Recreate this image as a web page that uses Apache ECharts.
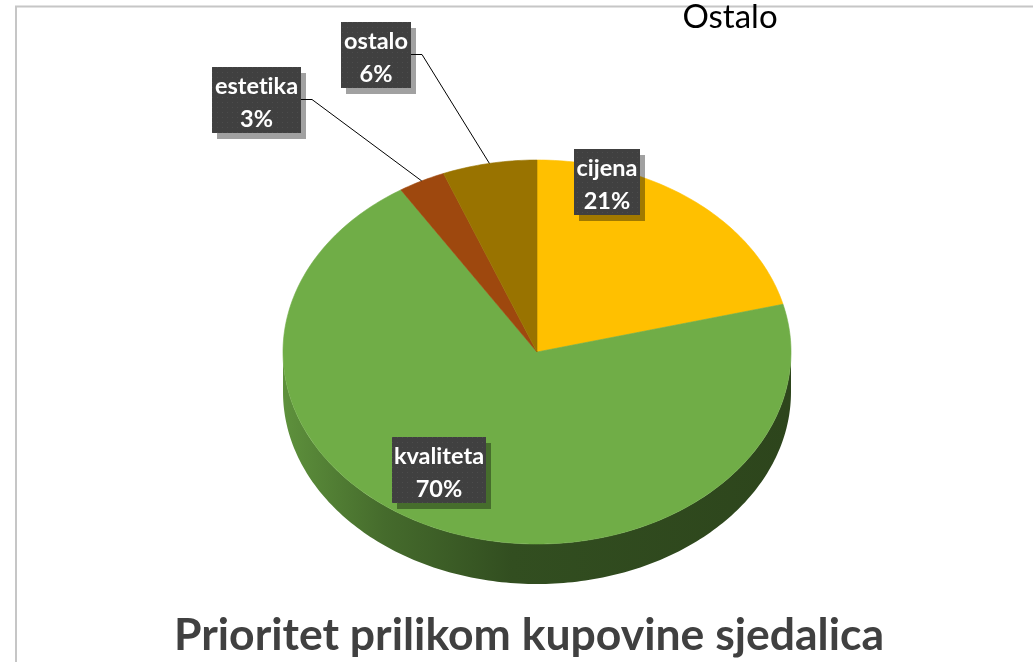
<!DOCTYPE html>
<html>
<head>
<meta charset="utf-8">
<script src="https://cdn.jsdelivr.net/npm/echarts@6/dist/echarts.min.js"></script>
<style>
html,body{margin:0;padding:0;background:#fff;}
#chart{width:1033px;height:662px;}
</style>
</head>
<body>
<div id="chart"></div>
<script>
// ---- data ----
const categories = ['cijena', 'kvaliteta', 'estetika', 'ostalo'];
const values = [21, 70, 3, 6];
const chartTitle = 'Prioritet prilikom kupovine sjedalica';
const seriesTitle = 'Ostalo';

// ---- styling / layout ----
const colors = ['#FFC000', '#70AD47', '#9E480E', '#997300'];
const pie = { cx: 537, cy: 352, rx: 254, ry: 192, depth: 40 };
const labelBoxes = [
  { x: 574, y: 149, w: 66, h: 66, leader: false },
  { x: 392, y: 437, w: 94, h: 66, leader: false },
  { x: 212, y: 67, w: 89, h: 66, leader: true },
  { x: 341, y: 22, w: 70, h: 66, leader: true }
];

const total = values.reduce((a, b) => a + b, 0);
const starts = [];
let acc = 0;
values.forEach(v => { starts.push(acc); acc += v; });

function pt(deg, dy) {
  const r = deg * Math.PI / 180;
  return [pie.cx + pie.rx * Math.sin(r), pie.cy - pie.ry * Math.cos(r) + (dy || 0)];
}
function shade(hex, f) {
  const n = parseInt(hex.slice(1), 16);
  const r = Math.round(((n >> 16) & 255) * f), g = Math.round(((n >> 8) & 255) * f), b = Math.round((n & 255) * f);
  return 'rgb(' + r + ',' + g + ',' + b + ')';
}
// avoid the Lato "ti" ligature
function noLig(s) { return s.replace(/t(?=i)/g, 't\u200C'); }

// dotted pattern for label boxes
const pat = document.createElement('canvas');
pat.width = 5; pat.height = 5;
const pctx = pat.getContext('2d');
pctx.fillStyle = '#404040'; pctx.fillRect(0, 0, 5, 5);
pctx.fillStyle = '#4c4c4c'; pctx.fillRect(2, 2, 1, 1);

const chart = echarts.init(document.getElementById('chart'), null, { renderer: 'canvas' });

function renderItem(params, api) {
  const i = params.dataIndex;
  const v = api.value(0);
  const a0 = starts[i] / total * 360;
  const a1 = (starts[i] + v) / total * 360;
  const color = colors[i];
  const children = [];

  // side wall (front half only: 90..270 deg)
  const s0 = Math.max(a0, 90), s1 = Math.min(a1, 270);
  if (s1 > s0) {
    const topPts = [], botPts = [];
    for (let d = s0; d <= s1 + 1e-6; d += 1) { topPts.push(pt(d)); botPts.push(pt(d, pie.depth)); }
    topPts.push(pt(s1)); botPts.push(pt(s1, pie.depth));
    const poly = topPts.concat(botPts.reverse());
    children.push({
      type: 'polygon', z2: 1,
      shape: { points: poly },
      style: {
        fill: {
          type: 'linear', global: true,
          x: pie.cx - pie.rx, y: 0, x2: pie.cx + pie.rx, y2: 0,
          colorStops: [
            { offset: 0, color: shade(color, 0.84) },
            { offset: 0.2, color: shade(color, 0.62) },
            { offset: 0.45, color: shade(color, 0.45) },
            { offset: 1, color: shade(color, 0.40) }
          ]
        }
      }
    });
  }

  // top face
  const pts = [[pie.cx, pie.cy]];
  for (let d = a0; d <= a1 + 1e-6; d += 1) pts.push(pt(d));
  pts.push(pt(a1));
  children.push({
    type: 'polygon', z2: 2,
    shape: { points: pts },
    style: { fill: color, stroke: color, lineWidth: 0.6 }
  });

  // label
  const box = labelBoxes[i];
  const pct = Math.round(v / total * 100) + '%';
  children.push({
    type: 'rect', z2: 9,
    shape: { x: box.x + 5, y: box.y + 6, width: box.w, height: box.h },
    style: { fill: 'rgba(0,0,0,0.37)' }
  });
  children.push({
    type: 'rect', z2: 10,
    shape: { x: box.x, y: box.y, width: box.w, height: box.h },
    style: { fill: { image: pat, repeat: 'repeat' } }
  });
  children.push({
    type: 'text', z2: 11,
    style: {
      text: noLig(categories[i]) + '\n' + pct,
      x: box.x + box.w / 2, y: box.y + box.h / 2 + 3,
      align: 'center', verticalAlign: 'middle',
      lineHeight: 33,
      font: 'bold 23.5px Lato',
      fill: '#ffffff'
    }
  });
  if (box.leader) {
    const mid = (a0 + a1) / 2;
    const end = pt(mid);
    const ly = box.y + box.h / 2 - 0.5;
    children.push({
      type: 'polyline', z2: 8,
      shape: { points: [[box.x + box.w, ly], [box.x + box.w + 11, ly], end] },
      style: { stroke: '#000', lineWidth: 1, fill: null }
    });
  }
  return { type: 'group', children: children };
}

chart.setOption({
  animation: false,
  backgroundColor: '#ffffff',
  graphic: [
    {
      type: 'rect', z: -1,
      shape: { x: 16, y: 6.5, width: 1200, height: 1000 },
      style: { fill: null, stroke: '#c6c6c6', lineWidth: 2 }
    },
    {
      type: 'text', z: 5,
      style: {
        text: seriesTitle, x: 730, y: 17,
        align: 'center', verticalAlign: 'middle',
        font: '33px Lato', fill: '#000000'
      }
    },
    {
      type: 'text', z: 5,
      style: {
        text: chartTitle, x: 529, y: 636,
        align: 'center', verticalAlign: 'middle',
        font: 'bold 44.5px Lato', fill: '#404040'
      }
    }
  ],
  series: [{
    type: 'custom',
    coordinateSystem: 'none',
    renderItem: renderItem,
    data: values.map((v, i) => ({ name: categories[i], value: [v] }))
  }]
});
</script>
</body>
</html>
